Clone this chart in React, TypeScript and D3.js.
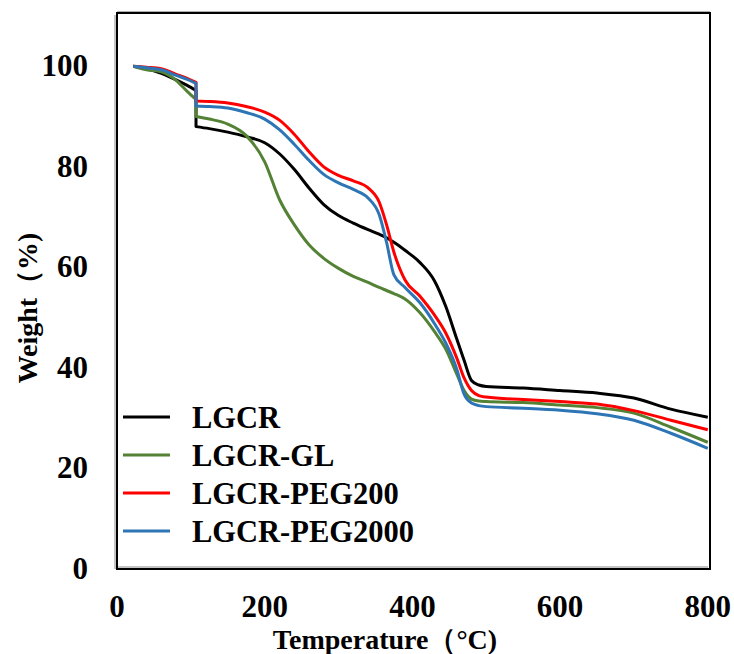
import React from "react";
import * as d3 from "d3";

const temps = [22, 40, 60, 80, 95, 107, 107, 125, 150, 175, 200, 220, 240, 260, 280, 300, 320, 340, 355, 365, 375, 390, 410, 430, 445, 460, 470, 480, 490, 500, 550, 600, 650, 700, 750, 800];

const lgcr = [100, 99.5, 98.6, 97.3, 96.2, 95.2, 88.0, 87.6, 86.9, 86.0, 84.8, 82.6, 79.5, 75.8, 72.5, 70.3, 68.8, 67.5, 66.6, 65.9, 65.0, 63.4, 61.0, 57.3, 52.3, 45.8, 41.5, 37.5, 36.6, 36.3, 36.0, 35.5, 35.0, 34.0, 31.8, 30.2];
const lgcrGL = [100, 99.3, 98.9, 97.2, 95.0, 93.4, 90.0, 89.5, 88.5, 86.2, 81.0, 73.5, 68.5, 64.5, 61.8, 59.8, 58.2, 57.0, 56.0, 55.4, 54.8, 53.7, 51.0, 47.2, 43.8, 38.8, 35.5, 33.8, 33.4, 33.3, 33.1, 32.6, 32.1, 31.0, 28.2, 25.2];
const lgcrPEG200 = [100, 99.8, 99.5, 98.4, 97.6, 96.8, 93.1, 93.0, 92.7, 92.0, 90.9, 89.3, 86.5, 83.0, 80.0, 78.3, 77.2, 75.8, 73.0, 68.5, 63.0, 57.5, 54.3, 50.5, 47.0, 42.0, 38.0, 35.5, 34.5, 34.2, 33.7, 33.3, 32.8, 31.5, 29.6, 27.7];
const lgcrPEG2000 = [100, 99.7, 99.3, 98.2, 97.4, 96.6, 92.1, 92.0, 91.7, 90.8, 89.5, 87.4, 84.5, 81.3, 78.5, 76.8, 75.5, 73.8, 70.5, 65.0, 58.5, 56.0, 53.0, 48.8, 45.0, 39.8, 34.8, 33.0, 32.5, 32.3, 32.0, 31.6, 30.9, 29.6, 27.0, 24.0];

const seriesNames = ["LGCR", "LGCR-GL", "LGCR-PEG200", "LGCR-PEG2000"];
const seriesValues = [lgcr, lgcrGL, lgcrPEG200, lgcrPEG2000];
const seriesColors = ["#000000", "#548235", "#ff0000", "#2e75b6"];

const xTicks = [0, 200, 400, 600, 800];
const yTicks = [0, 20, 40, 60, 80, 100];

const FONT = "'Liberation Serif', 'Times New Roman', serif";

export default function App() {
  const W = 734;
  const H = 654;
  const left = 117, right = 710, top = 13, bottom = 569;
  const x = d3.scaleLinear().domain([0, 803]).range([left, right]);
  const y = d3.scaleLinear().domain([0, 110.6]).range([bottom, top]);
  const line = d3
    .line<[number, number]>()
    .x((d) => x(d[0]))
    .y((d) => y(d[1]))
    .curve(d3.curveMonotoneX);

  const pathFor = (vals: number[]) => {
    const pts = temps.map((t, j) => [t, vals[j]] as [number, number]);
    // split at the duplicated temperature (the step)
    let split = pts.length;
    for (let k = 1; k < pts.length; k++) {
      if (pts[k][0] === pts[k - 1][0]) { split = k; break; }
    }
    const a = line(pts.slice(0, split)) || "";
    const b = line(pts.slice(split)) || "";
    return a + (b ? "L" + b.slice(1) : "");
  };

  return (
    <svg width={W} height={H} style={{ position: "absolute", left: 0, top: 0, background: "#fff" }}>
      <rect x={0} y={0} width={W} height={H} fill="#fff" />
      <line x1={left - 2} y1={top + 2} x2={left - 2} y2={bottom} stroke="#b0b0b0" strokeWidth={1.5} />
      <line x1={left} y1={bottom - 2} x2={right - 2} y2={bottom - 2} stroke="#b0b0b0" strokeWidth={1.5} />
      <line x1={left} y1={top - 1.5} x2={right} y2={top - 1.5} stroke="#b0b0b0" strokeWidth={1} />
      <rect x={left} y={top} width={right - left} height={bottom - top} fill="none" stroke="#000" strokeWidth={2} />

      {seriesValues.map((vals, i) => (
        <path
          key={seriesNames[i]}
          d={pathFor(vals)}
          fill="none"
          stroke={seriesColors[i]}
          strokeWidth={3}
          strokeLinejoin="round"
        />
      ))}

      {xTicks.map((t) => (
        <text key={"x" + t} x={x(t)} y={617} textAnchor="middle" fontFamily={FONT} fontWeight="bold" fontSize={31} fill="#000">
          {t}
        </text>
      ))}
      {yTicks.map((t) => (
        <text key={"y" + t} x={88} y={y(t) + 10} textAnchor="end" fontFamily={FONT} fontWeight="bold" fontSize={31} fill="#000">
          {t}
        </text>
      ))}

      <text x={385} y={649} textAnchor="middle" fontFamily={FONT} fontWeight="bold" fontSize={28} fill="#000">
        Temperature（°C)
      </text>
      <text
        transform={`translate(37,308) rotate(-90)`}
        textAnchor="middle"
        fontFamily={FONT}
        fontWeight="bold"
        fontSize={28}
        fill="#000"
      >
        Weight（%)
      </text>

      {seriesNames.map((name, i) => (
        <g key={"leg" + name}>
          <line x1={123} x2={170} y1={417 + i * 38} y2={417 + i * 38} stroke={seriesColors[i]} strokeWidth={3} />
          <text x={192} y={428 + i * 38} fontFamily={FONT} fontWeight="bold" fontSize={30.5} fill="#000">
            {name}
          </text>
        </g>
      ))}
    </svg>
  );
}
